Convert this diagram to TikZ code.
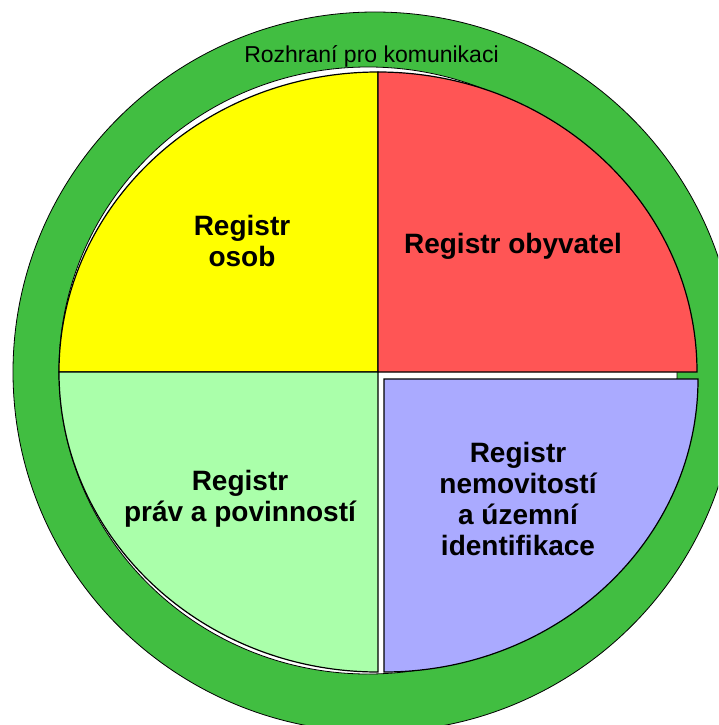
\documentclass[tikz,border=0pt]{standalone}
\usepackage{fontspec}
\setmainfont{Liberation Sans}
\definecolor{ringgreen}{HTML}{41BE41}
\definecolor{qyellow}{HTML}{FFFF00}
\definecolor{qred}{HTML}{FF5555}
\definecolor{qgreen}{HTML}{AAFFAA}
\definecolor{qblue}{HTML}{AAAAFF}
\begin{document}
\begin{tikzpicture}[x=1pt,y=-1pt,
  sector/.style={draw=black,line width=1.2pt,line join=miter},
  biglabel/.style={font=\fontsize{28}{31}\selectfont\bfseries,align=center,inner sep=0pt},
  ringlabel/.style={font=\fontsize{23}{25}\selectfont,inner sep=0pt,anchor=base}]
\useasboundingbox (0,0) rectangle (718,725);
\clip (0,0) rectangle (718,725);
% outer ring
\draw[fill=ringgreen,draw=black,line width=0.8pt] (375,372) ellipse [x radius=362pt,y radius=360pt];
% inner white disc
\draw[fill=white,draw=black,line width=0.8pt] (368,370.5) ellipse [x radius=309pt,y radius=303.5pt];
% quadrants
\draw[sector,fill=qyellow] (378,372) -- (59,372) arc[start angle=180,end angle=90,x radius=319pt,y radius=300pt] -- cycle;
\draw[sector,fill=qred] (378,372) -- (378,72) arc[start angle=90,end angle=0,x radius=319pt,y radius=300pt] -- cycle;
\draw[sector,fill=qgreen] (378,372) -- (59,372) arc[start angle=180,end angle=270,x radius=319pt,y radius=300pt] -- cycle;
\draw[sector,fill=qblue] (384,379) -- (698,379) arc[start angle=0,end angle=-90,x radius=314pt,y radius=293pt] -- cycle;
% labels
\node[ringlabel] (ring) at (371.5,63) {Rozhraní pro komunikaci};
\node[biglabel] (osoby) at (242,241) {Registr\\osob};
\node[biglabel,anchor=base] (obyv) at (513,253) {Registr obyvatel};
\node[biglabel] (prava) at (240,499) {Registr\\práv a povinností};
\node[biglabel] (nemov) at (518,498.5) {Registr\\nemovitostí\\a územní\\identifikace};
\end{tikzpicture}
\end{document}
